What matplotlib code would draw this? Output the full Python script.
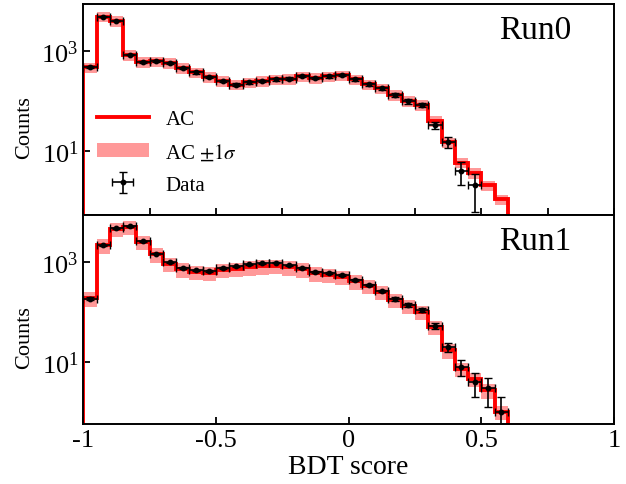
import numpy as np
import matplotlib
matplotlib.use('Agg')
import matplotlib.pyplot as plt
from matplotlib.lines import Line2D
from matplotlib.patches import Patch

plt.rcParams['font.family'] = ['Liberation Serif', 'DejaVu Serif']
plt.rcParams['mathtext.fontset'] = 'stix'
plt.rcParams['axes.unicode_minus'] = False

# 40 bins of width 0.05 from -1 to 1
edges = np.linspace(-1, 1, 41)

# Run0
data_run0 = [490, 5000, 4150, 855, 620, 635, 580, 460, 377, 308,
             253, 213, 238, 252, 273, 281, 318, 294, 314, 334,
             273, 217, 180, 132, 99, 84, 33, 15, 4, 2,
             0, 0, 0, 0, 0, 0, 0, 0, 0, 0]
ac_run0 = [480, 5000, 4150, 860, 620, 630, 580, 460, 380, 310,
           255, 215, 238, 252, 272, 282, 316, 296, 312, 330,
           275, 218, 180, 134, 100, 84, 40, 14.8, 5.8, 3.6,
           2.0, 1.05, 0, 0, 0, 0, 0, 0, 0, 0]
rel_sigma_run0 = 0.24

# Run1
data_run1 = [188, 2230, 4840, 5310, 2690, 1490, 1000, 781, 690, 670,
             781, 830, 912, 955, 985, 870, 781, 639, 609, 556,
             441, 355, 269, 185, 140, 110, 53, 20, 8, 4,
             3, 1, 0, 0, 0, 0, 0, 0, 0, 0]
ac_run1 = [190, 2200, 4700, 5200, 2600, 1450, 950, 730, 640, 620,
           700, 740, 800, 840, 860, 800, 730, 600, 570, 520,
           420, 340, 255, 178, 135, 102, 51, 17, 7.3, 4.6,
           2.7, 1.0, 0.45, 0, 0, 0, 0, 0, 0, 0]
rel_sigma_run1 = 0.32

panels = [('Run0', data_run0, ac_run0, rel_sigma_run0, (0.51, 8950)),
          ('Run1', data_run1, ac_run1, rel_sigma_run1, (0.565, 9000))]

fig = plt.figure(figsize=(6.26, 4.85), dpi=100)
left, width = 83.3 / 626, 530.7 / 626
ax_top = fig.add_axes([left, 1 - 216 / 485, width, 211 / 485])
ax_bot = fig.add_axes([left, 1 - 425 / 485, width, 209 / 485])

floor = 1e-3
for ax, (name, data, ac, rel, ylim) in zip([ax_top, ax_bot], panels):
    data = np.array(data, dtype=float)
    ac = np.array(ac, dtype=float)
    ac_plot = np.where(ac > 0, ac, floor)
    lo = np.where(ac > 0, ac * (1 - rel), floor)
    hi = np.where(ac > 0, ac * (1 + rel), floor)

    ax.fill_between(edges, np.append(lo, lo[-1]), np.append(hi, hi[-1]),
                    step='post', color='#ff9999', linewidth=0, zorder=1)
    ax.stairs(ac_plot, edges, baseline=floor, color='red', linewidth=2.8, zorder=2)

    centers = 0.5 * (edges[:-1] + edges[1:])
    m = data > 0
    ax.errorbar(centers[m], data[m], xerr=0.025, yerr=np.sqrt(data[m]),
                fmt='o', color='black', ms=3.2, elinewidth=1.2, capsize=3,
                capthick=1.0, zorder=3)

    ax.set_yscale('log')
    ax.set_xlim(-1, 1)
    ax.set_ylim(*ylim)
    ax.set_yticks([10, 1000])
    ax.yaxis.set_minor_locator(matplotlib.ticker.NullLocator())
    ax.tick_params(axis='both', direction='in', length=5, width=1.3, labelsize=19)
    for s in ax.spines.values():
        s.set_linewidth(1.4)
    ax.set_ylabel('Counts', fontsize=16)
    ax.yaxis.set_label_coords(-0.093, 0.42)
    ax.text(0.92, 0.95, name, transform=ax.transAxes, ha='right', va='top', fontsize=24)

ax_top.set_xticks(np.arange(-1, 1.01, 0.25))
ax_top.tick_params(axis='x', labelbottom=False)
ax_bot.set_xticks([-1, -0.5, 0, 0.5, 1])
ax_bot.set_xticklabels(['-1', '-0.5', '0', '0.5', '1'])
ax_bot.set_xlabel('BDT score', fontsize=20, labelpad=2)

handles = [Line2D([], [], color='red', linewidth=2.8),
           Patch(facecolor='#ff9999', edgecolor='none'),
           ax_top.containers[0]]
ax_top.legend(handles, ['AC', r'AC $\pm 1\sigma$', 'Data'], loc='lower left',
              bbox_to_anchor=(-0.01, 0.008), frameon=False, fontsize=15,
              handlelength=2.5, handletextpad=0.8, labelspacing=0.6)

fig.savefig('out.png', dpi=100)
